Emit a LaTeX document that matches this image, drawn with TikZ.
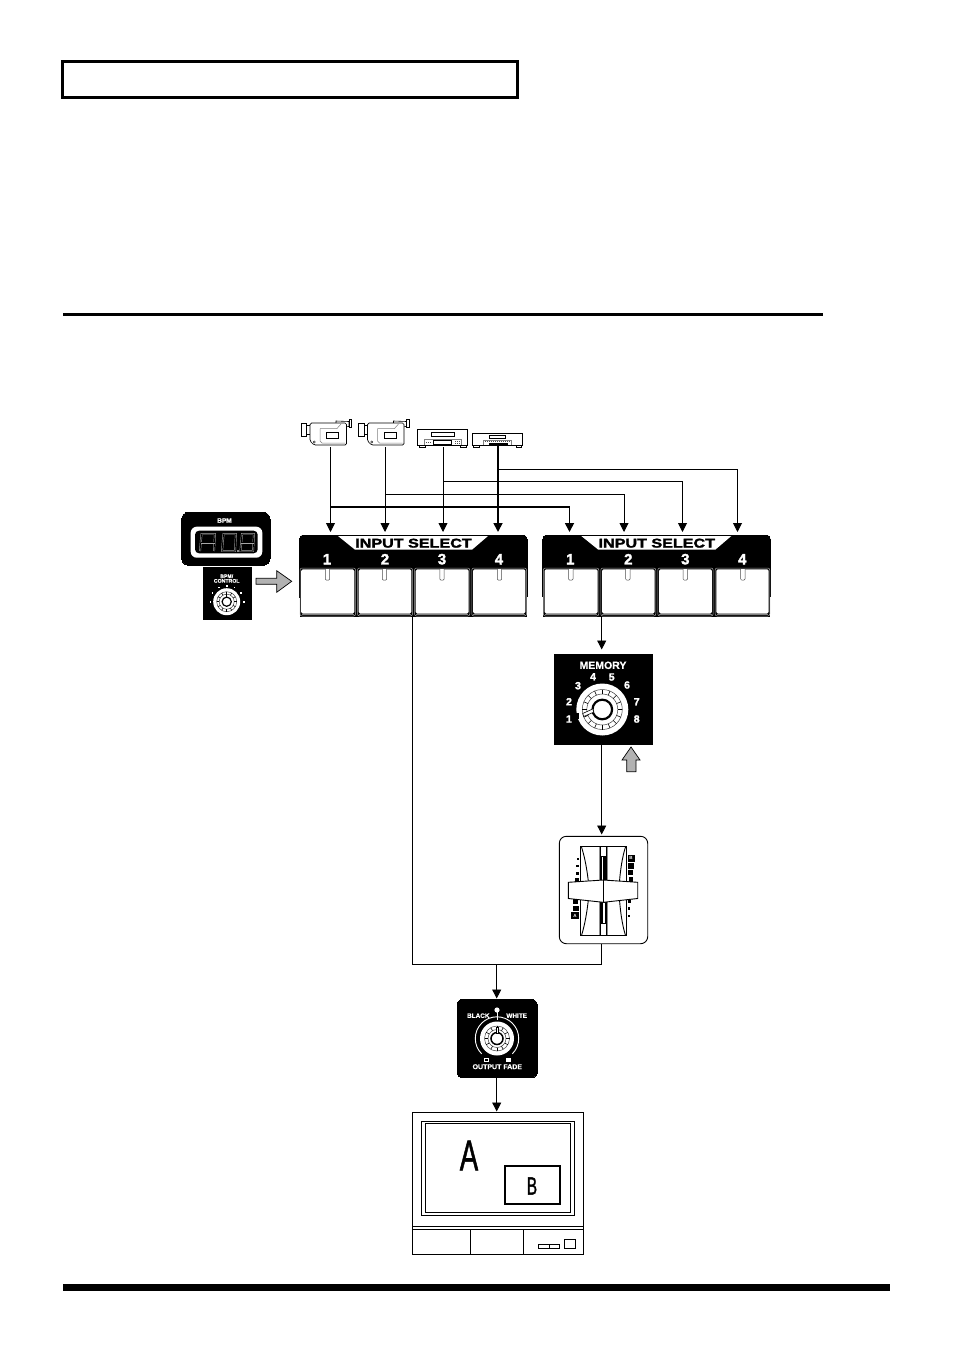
\documentclass[tikz,border=0pt]{standalone}
\usepackage{fontspec}
\setmainfont{Liberation Sans}
\newfontfamily\heavyfont{Liberation Sans Bold}[FakeBold=1.8]
\newfontfamily\semiheavyfont{Liberation Sans Bold}[FakeBold=0.5]
\newfontfamily\midfont{Liberation Sans}[FakeBold=1.6]
\usetikzlibrary{arrows.meta}
\tikzset{
  wire/.style={line width=0.9pt,draw=black},
  thickwire/.style={line width=1.7pt,draw=black},
  tip/.style={-{Triangle[length=9pt,width=9pt]}},
  grayarrow/.style={draw=black,line width=0.7pt,fill=black!30},
  blackbox/.style={fill=black,draw=black,inner sep=0pt,line width=0pt},
  whitetext/.style={text=white,inner sep=0pt},
  devline/.style={line width=0.6pt,draw=black,fill=white},
  devgray/.style={line width=0.5pt,draw=black!50},
  seg/.style={draw=black!35,line width=0.45pt,double=black,double distance=1.0pt,line cap=butt},
}
\newcommand{\rectnode}[7][]{% style, name, x1,y1,x2,y2, text
  \node[inner sep=0pt,outer sep=0pt,minimum width={(#5-#3)*1pt},minimum height={(#6-#4)*1pt},#1] (#2) at ({(#3+#5)/2},{(#4+#6)/2}) {#7};}
\newcommand{\gearb}[5]{% cx cy router rinner ticks-step: chain-like gear on white
  \draw[black!75,line width=0.5pt] (#1,#2) circle[radius=#3];
  \draw[black!75,line width=0.5pt] (#1,#2) circle[radius=#4];
  \foreach \a in {0,#5,...,359}{\draw[black,line width=0.6pt] ({#1+#3*cos(\a)},{#2+#3*sin(\a)}) -- ({#1+#4*cos(\a)},{#2+#4*sin(\a)});}
}
\newcommand{\selectpanel}[2]{%
 \begin{scope}[xshift=#2pt]
  \rectnode[blackbox,rounded corners=4pt]{#1}{299.5}{535}{527}{600}{}
  \fill[black] (299.5,560) rectangle (527,617);
  \fill[white] (338,536) -- (488,536) -- (472,549.7) -- (355,549.7) -- cycle;
  \node[inner sep=0pt,font=\heavyfont\fontsize{12.8}{12.8}\selectfont] (#1title) at (413.5,543.2) {\scalebox{1.26}[1]{INPUT SELECT}};
  \node[whitetext,font=\heavyfont\fontsize{15}{15}\selectfont] (#1n1) at (327,559.2) {1};
  \node[whitetext,font=\heavyfont\fontsize{15}{15}\selectfont] (#1n2) at (385,559.2) {2};
  \node[whitetext,font=\heavyfont\fontsize{15}{15}\selectfont] (#1n3) at (442,559.2) {3};
  \node[whitetext,font=\heavyfont\fontsize{15}{15}\selectfont] (#1n4) at (499,559.2) {4};
  \foreach \xa/\xb/\k in {300/355.5/1,357.5/412.5/2,414.5/469.8/3,471.8/526.5/4}{
    \rectnode[draw=black!35,line width=0.5pt,fill=black,rounded corners=2pt]{#1b\k}{\xa}{568}{\xb}{616}{}
    \fill[white,rounded corners=1.5pt] ({\xa+1.2},569.3) rectangle ({\xb-1.2},613.5);
    \fill[black!50] ({\xa+1.5},613.5) rectangle ({\xb-1.5},615.2);
  }
  \foreach \xc in {327.5,384.5,442,499.5}{
    \draw[line width=0.5pt,black!70,fill=white,rounded corners=1pt] (\xc-2.2,569) -- (\xc-2.2,580) -- (\xc+2.2,580) -- (\xc+2.2,569);
  }
 \end{scope}
}
\newcommand{\camera}[3]{%
 \begin{scope}[xshift=#2pt]
  \draw[devline,line width=0.8pt] (301,423) rectangle (306.5,436);
  \draw[devline] (306.5,425) rectangle (310,434);
  \draw[devline] (336,421) -- (349,421.5) -- (349,426.5) -- (336,427) -- cycle;
  \draw[devline,line width=0.7pt] (349,419.5) rectangle (351.5,427.5);
  \draw[devline,rounded corners=1.5pt,line width=0.7pt] (310,423) -- (346.5,423) -- (346.5,445) -- (314,445) -- (310,441) -- cycle;
  \draw[devgray] (320,428.5) -- (320,441) -- (322,443) -- (345,443) ;
  \draw[devgray] (320,428.5) -- (337,428.5) -- (341,424) ;
  \draw[devline,line width=0.5pt] (326.5,432.5) rectangle (338.5,438.5);
  \draw[devline,line width=0.4pt] (314.3,442) circle[radius=1.1];
  \coordinate (#1) at (#3,447);
 \end{scope}
}
\begin{document}
\begin{tikzpicture}[x=1pt,y=-1pt]
\useasboundingbox (0,0) rectangle (954,1351);
\fill[white] (0,0) rectangle (954,1351);
% page furniture
\draw[line width=3pt] (62.5,61.5) rectangle (517.5,97.5);
\draw[line width=3pt] (63,314) -- (823,314);
\fill[black] (63,1283.5) rectangle (890,1290.5);

% source devices
\camera{camA}{0}{330.5}
\camera{camB}{57.5}{327.5}
% VCR 1
\draw[devline,line width=0.7pt] (419,445) rectangle (425,447.5);
\draw[devline,line width=0.7pt] (460,445) rectangle (466,447.5);
\rectnode[devline,line width=0.8pt]{vcrA}{417.5}{429.5}{467.5}{445.5}{}
\draw[line width=0.6pt] (431.7,432.3) rectangle (454.3,436.7);
\draw[devgray] (424.3,445) -- (424.3,439) -- (461,439) -- (461,445);
\draw[line width=0.5pt] (433.3,440.5) rectangle (451.7,444.5);
\draw[line width=0.8pt,black!70,dash pattern=on 1pt off 1pt] (455,441) -- (460,441);
\draw[line width=0.8pt,black!70,dash pattern=on 1pt off 1pt] (455,443.5) -- (460,443.5);
\draw[line width=0.8pt,black!70,dash pattern=on 1pt off 1pt] (426,442) -- (432,442);
\coordinate (vcrAout) at (443,447);
% VCR 2
\draw[devline,line width=0.7pt] (473.5,445) rectangle (479,447.5);
\draw[devline,line width=0.7pt] (516,445) rectangle (521.5,447.5);
\rectnode[devline,line width=0.8pt]{vcrB}{472.5}{433.5}{522.5}{445.5}{}
\draw[line width=0.5pt] (489,435.3) rectangle (505.7,438);
\draw[devgray] (483.3,445) -- (483.3,440) -- (511.7,440) -- (511.7,445);
\draw[line width=0.8pt,black!70,dash pattern=on 1pt off 1pt] (485,441.5) -- (510,441.5);
\fill[black] (489,442.7) rectangle (508.3,445);
\coordinate (vcrBout) at (498,445);

% input select panels
\selectpanel{panelL}{0}
\selectpanel{panelR}{243.3}

% targets of the source lines
\coordinate (inL1) at (330.5,532);
\coordinate (inL2) at (385,532);
\coordinate (inL3) at (443,532);
\coordinate (inL4) at (498,532);
\coordinate (inR1) at (569.5,532);
\coordinate (inR2) at (624,532);
\coordinate (inR3) at (682.5,532);
\coordinate (inR4) at (737.5,532);
\coordinate (j1) at (330.5,507);
\coordinate (j2) at (385,494);
\coordinate (j3) at (443,481);
\coordinate (j4) at (498,469);
\coordinate (bend1) at (569.5,507);
\coordinate (bend2) at (624,494);
\coordinate (bend3) at (682.5,481);
\coordinate (bend4) at (737.5,469);

\draw[wire,tip] (camA) -- (inL1);
\draw[wire,tip] (camB) -- (inL2);
\draw[wire,tip] (vcrAout) -- (inL3);
\draw[thickwire,tip] (vcrBout) -- (inL4);
\draw[wire,tip] (j4) -- (bend4) -- (inR4);
\draw[wire,tip] (j3) -- (bend3) -- (inR3);
\draw[wire,tip] (j2) -- (bend2) -- (inR2);
\draw[thickwire,tip] (j1) -- (bend1) -- (inR1);

% BPM display
\rectnode[blackbox,rounded corners=7pt]{display}{181.7}{512.3}{270}{565.3}{}
\node[whitetext,font=\semiheavyfont\fontsize{6.5}{6.5}\selectfont] (bpmlabel) at (224.5,520.5) {BPM};
\fill[white,rounded corners=6pt] (190.7,526.7) rectangle (262.3,557.7);
\fill[black,rounded corners=4pt] (195,530.7) rectangle (257.7,553.3);
% seven segment read-out: A 0 . 8
\draw[seg] (200,551) -- (201.5,534) -- (215,534) -- (214,551);
\draw[seg] (200.8,542.7) -- (214.5,542.7);
\draw[seg] (222,551) -- (223.5,534) -- (236,534) -- (235,551) -- cycle;
\draw[seg] (240.5,551) -- (242,534) -- (254,534) -- (253,551) -- cycle;
\draw[seg] (241.2,542.7) -- (253.5,542.7);
\fill[black!45] (236.8,549.5) rectangle (238.6,551.5);

% BPM control
\rectnode[blackbox]{bpmknob}{203}{567.7}{251.7}{619.7}{}
\node[whitetext,align=center,font=\semiheavyfont\fontsize{5.2}{4.6}\selectfont] (bpmctl) at (226.7,578.5) {BPM/\\CONTROL};
\fill[white] (226.7,601.7) circle[radius=13.5];
\gearb{226.7}{601.7}{10}{7.5}{30}
\fill[white] (226.7,601.7) circle[radius=6.5];
\draw[black,line width=1.2pt] (226.7,601.7) circle[radius=4.6];
\draw[black,line width=0.7pt] (226.7,597) -- (226.7,591.5);
\foreach \dx/\dy in {210.5/601.7,212.5/592.7,226.7/585.7,241/592.7,244/601.7,219/587.5,234.5/587.5}{\fill[white] (\dx-0.9,\dy-0.9) rectangle (\dx+0.9,\dy+0.9);}
% gray arrow to panel
\draw[grayarrow] (256,578.3) -- (276.7,578.3) -- (276.7,570.7) -- (291.7,581.3) -- (276.7,592.3) -- (276.7,584.3) -- (256,584.3) -- cycle;

% memory
\rectnode[blackbox]{memory}{554}{654}{652}{744}{}
\node[whitetext,font=\semiheavyfont\fontsize{10.5}{10.5}\selectfont] (memlabel) at (603,665.3) {MEMORY};
\foreach \tx/\ty/\t in {569/719/1,569/701.7/2,578/685.7/3,593/676.7/4,611.7/677/5,627/685/6,636.7/701.7/7,636.7/719/8}{
  \node[whitetext,font=\heavyfont\fontsize{10.5}{10.5}\selectfont] at (\tx,\ty) {\t};
}
\fill[white] (602.3,709.5) circle[radius=26];
\fill[black] (575,712.5) rectangle (579,719);
\gearb{602.3}{709.5}{20}{15.5}{22.5}
\fill[white] (602.3,709.5) circle[radius=14];
\draw[black,line width=2.2pt] (602.3,709.5) circle[radius=9.8];
\draw[black,line width=0.6pt,fill=white] (593,708.8) -- (582.7,713.5) -- (583.7,716.5) -- (593.5,712.3) -- cycle;
% gray arrow to memory
\draw[grayarrow] (626.7,771.7) -- (626.7,760) -- (622,760) -- (631,747) -- (640,760) -- (636,760) -- (636,771.7) -- cycle;

% fader
\rectnode[draw=black,line width=0.9pt,fill=white,rounded corners=7pt]{fader}{559.3}{836.3}{647.7}{943.7}{}
\draw[line width=0.8pt] (580.7,846.7) rectangle (600,935.7);
\draw[line width=0.8pt] (606.7,846.7) rectangle (626,935.7);
\draw[line width=0.8pt] (600,846.7) -- (606.7,846.7);
\draw[line width=0.8pt] (600,935.7) -- (606.7,935.7);
\draw[black!45,line width=0.9pt] (599.2,847) -- (599.2,935.3);
\draw[black!45,line width=0.9pt] (607.5,847) -- (607.5,935.3);
\draw[line width=0.6pt] (601.2,856.7) rectangle (605.5,880);
\fill[black] (602.6,856.7) rectangle (605.5,880);
\draw[line width=0.6pt] (600.9,902) rectangle (605.3,923);
\fill[black] (600.9,902) rectangle (603.3,923);
\draw[line width=0.9pt] (581.5,847) .. controls (585,858) and (587,870) .. (588.3,881);
\draw[line width=0.9pt] (625.5,847) .. controls (622,858) and (620.5,870) .. (619.5,881);
\draw[line width=0.9pt] (588.3,900) .. controls (587,912) and (585,924) .. (581.5,935.5);
\draw[line width=0.9pt] (619.5,900) .. controls (620.5,912) and (622,924) .. (625.5,935.5);
\draw[line width=0.9pt,fill=white] (568.3,882.3) -- (603.3,880) -- (637.7,882.3) -- (637.7,898.5) -- (603.3,902.3) -- (568.3,898.5) -- cycle;
\draw[line width=0.9pt] (603.3,880) -- (603.3,902.3);
\foreach \sx/\sy/\ss in {577.7/859/0.9,577.3/866/1.2,577.3/873.3/1.5,577.3/879.8/1.9,575.7/901.3/2.3,575.7/908.3/2.8,629.3/901.7/1.5,629/908.3/1.2,629/915.7/0.9,631/865.7/2.8,630.7/872.3/2.5,630.7/879.5/2.2}{
  \fill[black] (\sx-\ss,\sy-\ss) rectangle (\sx+\ss,\sy+\ss);
}
\node[blackbox,minimum width=6.5pt,minimum height=5.5pt,text=white,font=\bfseries\fontsize{4.5}{4.5}\selectfont] (faderA) at (575,915.7) {A};
\node[blackbox,minimum width=6pt,minimum height=5.5pt,text=white,font=\bfseries\fontsize{4.5}{4.5}\selectfont] (faderB) at (631,858.3) {B};

% output fade
\rectnode[blackbox,rounded corners=6pt]{outfade}{457}{999.3}{537.3}{1077.7}{}
\node[whitetext,font=\semiheavyfont\fontsize{6.4}{6.4}\selectfont] (blacklbl) at (478.3,1015.7) {BLACK};
\node[whitetext,font=\semiheavyfont\fontsize{6.4}{6.4}\selectfont] (whitelbl) at (516.7,1015.7) {WHITE};
\node[whitetext,font=\semiheavyfont\fontsize{7}{7}\selectfont] (fadelbl) at (497.3,1066.7) {OUTPUT FADE};
\fill[white] (497,1010) circle[radius=2.6];
\draw[white,line width=1pt] (497,1012) -- (497,1019.5);
\draw[white,line width=0.9pt] ({497+21.7*cos(135)},{1038.5+21.7*sin(135)}) arc[start angle=135,delta angle=270,radius=21.7];
\fill[white] (497,1038.5) circle[radius=17];
\gearb{497}{1038.5}{12.5}{9}{30}
\fill[white] (497,1038.5) circle[radius=8];
\draw[black,line width=1.5pt] (497,1038.5) circle[radius=6];
\draw[black,line width=0.5pt,fill=white] (496,1027.5) rectangle (498,1033.5);
\draw[white,line width=0.7pt,fill=black] (484.6,1058.3) rectangle (488.2,1061.6);
\fill[white] (506,1058) rectangle (511,1062);

% monitor
\rectnode[draw=black,line width=0.8pt,fill=white]{monitor}{412.5}{1112.5}{583.7}{1254.3}{}
\draw[line width=0.8pt] (421.3,1121.3) rectangle (574.3,1215.7);
\draw[line width=0.8pt] (425.3,1123.7) rectangle (570.3,1212.7);
\rectnode[draw=black,line width=1.9pt]{boxB}{504.7}{1165.7}{560.3}{1204}{}
\node[inner sep=0pt,font=\midfont\fontsize{43}{43}\selectfont] (letterA) at (469,1155.5) {\scalebox{0.64}[1]{A}};
\node[inner sep=0pt,font=\midfont\fontsize{25}{25}\selectfont] (letterB) at (532,1186) {\scalebox{0.62}[1]{B}};
\draw[line width=0.8pt] (412.5,1226.3) -- (583.7,1226.3);
\draw[line width=0.8pt] (412.5,1229) -- (583.7,1229);
\draw[line width=0.8pt] (470.3,1229) -- (470.3,1254.3);
\draw[line width=0.8pt] (523.7,1229) -- (523.7,1254.3);
\draw[line width=0.7pt] (538.3,1244.7) rectangle (559.7,1248.7);
\draw[line width=0.7pt] (549.3,1244.7) -- (549.3,1248.7);
\draw[line width=0.7pt] (564.7,1239.3) rectangle (575.7,1248.3);

% main signal path
\coordinate (panelRdrop) at (601.7,617);
\coordinate (panelLdrop) at (412.7,617);
\coordinate (mixL) at (412.7,964);
\coordinate (mixR) at (601.7,964);
\coordinate (mixM) at (496.7,964);
\coordinate (faderout) at (601.7,943.7);
\coordinate (memin) at (601.7,649.5);
\coordinate (memout) at (601.7,744);
\coordinate (faderin) at (601.7,834.5);
\coordinate (fadein) at (496.7,998.5);
\coordinate (fadeout) at (496.7,1077.7);
\coordinate (monin) at (496.7,1111.5);
\draw[wire,tip] (panelRdrop) -- (memin);
\draw[wire,tip] (memout) -- (faderin);
\draw[wire] (panelLdrop) -- (mixL) -- (mixR) -- (faderout);
\draw[wire,tip] (mixM) -- (fadein);
\draw[wire,tip] (fadeout) -- (monin);
\end{tikzpicture}
\end{document}
